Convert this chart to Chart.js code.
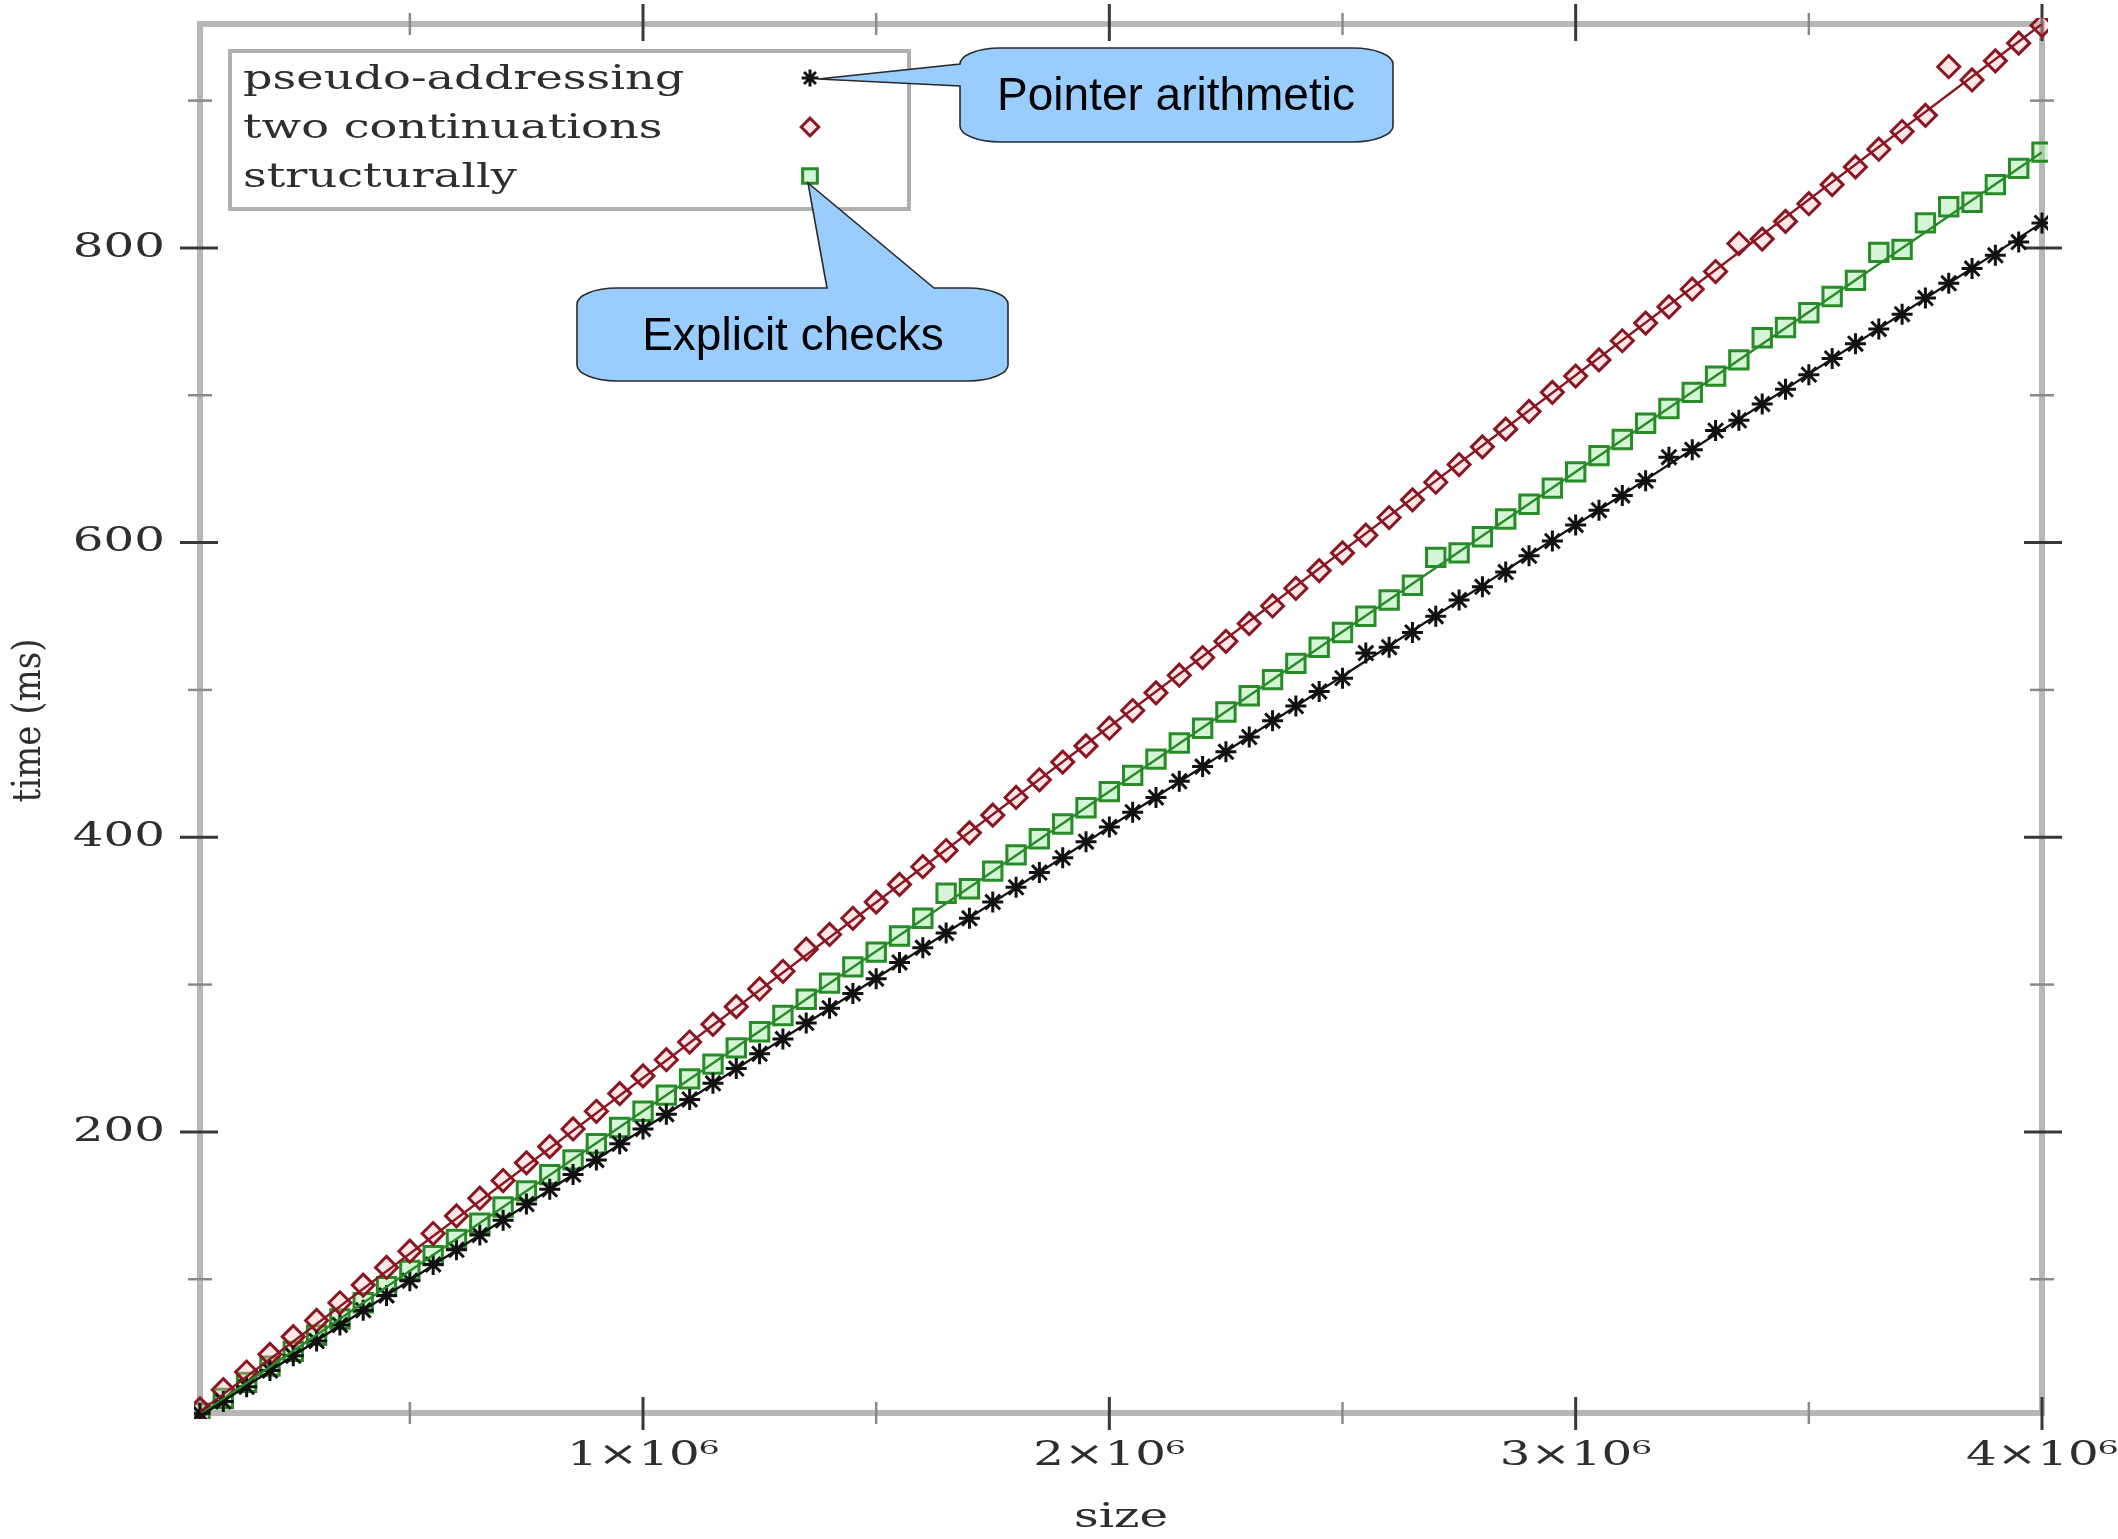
<!DOCTYPE html>
<html>
<head>
<meta charset="utf-8">
<title>time vs size</title>
<script src="https://cdn.jsdelivr.net/npm/chart.js@4.4.1/dist/chart.umd.min.js"></script>
<style>
  html, body { margin: 0; padding: 0; background: #fff; }
  #wrap { width: 2118px; height: 1539px; position: relative; }
</style>
</head>
<body>
<div id="wrap"><canvas id="chart"></canvas></div>
<script>
const sizes = [
  50000, 100000, 150000, 200000, 250000, 300000, 350000, 400000, 450000, 500000,
  550000, 600000, 650000, 700000, 750000, 800000, 850000, 900000, 950000, 1000000,
  1050000, 1100000, 1150000, 1200000, 1250000, 1300000, 1350000, 1400000, 1450000, 1500000,
  1550000, 1600000, 1650000, 1700000, 1750000, 1800000, 1850000, 1900000, 1950000, 2000000,
  2050000, 2100000, 2150000, 2200000, 2250000, 2300000, 2350000, 2400000, 2450000, 2500000,
  2550000, 2600000, 2650000, 2700000, 2750000, 2800000, 2850000, 2900000, 2950000, 3000000,
  3050000, 3100000, 3150000, 3200000, 3250000, 3300000, 3350000, 3400000, 3450000, 3500000,
  3550000, 3600000, 3650000, 3700000, 3750000, 3800000, 3850000, 3900000, 3950000, 4000000
];
const pseudoAddressing = [
  9, 17, 27, 38, 48, 58, 69, 79, 89, 99,
  110, 120, 130, 140, 151, 161, 171, 181, 192, 202,
  212, 222, 233, 243, 253, 263, 274, 284, 294, 304,
  315, 325, 335, 345, 356, 366, 376, 386, 397, 407,
  417, 427, 438, 448, 458, 468, 479, 489, 499, 508,
  525, 529, 539, 550, 561, 570, 580, 591, 601, 612,
  622, 632, 642, 658, 663, 676, 683, 694, 704, 714,
  725, 735, 745, 755, 766, 776, 786, 795, 804, 817
];
const twoContinuations = [
  12, 25, 37, 49, 61, 72, 84, 96, 108, 119,
  131, 143, 155, 167, 179, 190, 202, 214, 226, 238,
  249, 261, 273, 285, 297, 309, 324, 334, 345, 356,
  368, 380, 391, 403, 415, 427, 439, 451, 462, 474,
  486, 498, 510, 522, 533, 545, 557, 569, 581, 593,
  605, 617, 629, 641, 653, 665, 677, 689, 702, 713,
  724, 737, 749, 760, 772, 784, 803, 806, 818, 830,
  843, 855, 867, 879, 890, 923, 914, 927, 939, 951
];
const structurally = [
  9, 19, 30, 41, 51, 62, 73, 84, 95, 106,
  116, 127, 138, 149, 160, 171, 181, 192, 203, 214,
  225, 236, 246, 257, 268, 279, 290, 301, 312, 322,
  333, 345, 362, 365, 377, 388, 399, 409, 420, 431,
  442, 453, 464, 474, 485, 496, 507, 518, 529, 539,
  550, 561, 571, 590, 593, 604, 616, 626, 637, 648,
  659, 670, 681, 691, 702, 713, 724, 739, 746, 756,
  767, 778, 797, 799, 817, 828, 831, 843, 854, 865
];
// straight fit lines, end points
const fitSizes = [50000, 4000000];
const fitPseudo = [7, 817];
const fitTwo = [10, 952];
const fitStruct = [8, 865];

const seriesNames = ['pseudo-addressing', 'two continuations', 'structurally'];
const yTicks = [200, 400, 600, 800];
const yMinorTicks = [100, 300, 500, 700, 900];
const xTicks = [1000000, 2000000, 3000000, 4000000];
const xMinorTicks = [500000, 1500000, 2500000, 3500000];
const xTickLabels = ['1×10⁶', '2×10⁶', '3×10⁶', '4×10⁶'];

function pts(xs, ys) {
  return xs.map((x, i) => ({x: x, y: ys[i]}));
}

const black = '#111111', red = '#8a1622', green = '#278c27';

const pointSets = [
  {label: seriesNames[0], data: pts(sizes, pseudoAddressing), pointStyle: 'star',
   pointRadius: 10.5, pointBorderWidth: 3, borderColor: black, backgroundColor: black},
  {label: seriesNames[1], data: pts(sizes, twoContinuations), pointStyle: 'rectRot',
   pointRadius: 11, pointBorderWidth: 3, borderColor: red, backgroundColor: 'rgba(255,185,190,0.35)'},
  {label: seriesNames[2], data: pts(sizes, structurally), pointStyle: 'rect',
   pointRadius: 13, pointBorderWidth: 3, borderColor: green, backgroundColor: 'rgba(165,232,165,0.45)'}
];
pointSets.forEach(d => { d.showLine = false; d.clip = 6; });

const fitSets = [
  {label: 'fit1', data: pts(fitSizes, fitPseudo), borderColor: black},
  {label: 'fit2', data: pts(fitSizes, fitTwo), borderColor: red},
  {label: 'fit3', data: pts(fitSizes, fitStruct), borderColor: green}
];
fitSets.forEach(d => { d.showLine = true; d.pointRadius = 0; d.borderWidth = 2.4; d.fill = false; });

const STRETCH = 1.42;
const SERIF = '34px "DejaVu Serif", "Liberation Serif", serif';

function stretchedText(ctx, text, x, y, align, sx, rot) {
  ctx.save();
  ctx.translate(x, y);
  ctx.scale(sx, 1);
  if (rot) ctx.rotate(rot);
  ctx.textAlign = align;
  ctx.textBaseline = 'middle';
  ctx.fillText(text, 0, 0);
  ctx.restore();
}

function seg(ctx, x1, y1, x2, y2) {
  ctx.beginPath();
  ctx.moveTo(x1, y1);
  ctx.lineTo(x2, y2);
  ctx.stroke();
}

// gnuplot style box, mirrored ticks and labels
const frame = {
  id: 'frame',
  beforeDatasetsDraw(chart) {
    const {ctx, chartArea: a, scales: {x, y}} = chart;
    ctx.save();
    ctx.strokeStyle = '#b7b7b7';
    ctx.lineWidth = 6;
    ctx.strokeRect(a.left, a.top, a.right - a.left, a.bottom - a.top);

    ctx.strokeStyle = '#8a8a8a';
    ctx.lineWidth = 2.5;
    yMinorTicks.forEach(v => {
      const py = y.getPixelForValue(v);
      seg(ctx, a.left - 12, py, a.left + 12, py);
      seg(ctx, a.right - 12, py, a.right + 12, py);
    });
    xMinorTicks.forEach(v => {
      const px = x.getPixelForValue(v);
      seg(ctx, px, a.top - 11, px, a.top + 11);
      seg(ctx, px, a.bottom - 11, px, a.bottom + 11);
    });
    ctx.strokeStyle = '#383838';
    ctx.lineWidth = 3;
    yTicks.forEach(v => {
      const py = y.getPixelForValue(v);
      seg(ctx, a.left - 20, py, a.left + 18, py);
      seg(ctx, a.right - 18, py, a.right + 20, py);
    });
    xTicks.forEach(v => {
      const px = x.getPixelForValue(v);
      seg(ctx, px, a.top - 20, px, a.top + 17);
      seg(ctx, px, a.bottom - 16, px, a.bottom + 17);
    });

    ctx.fillStyle = '#2e2e2e';
    ctx.font = SERIF;
    yTicks.forEach(v => {
      stretchedText(ctx, String(v), a.left - 35, y.getPixelForValue(v), 'right', STRETCH);
    });
    xTicks.forEach((v, i) => {
      stretchedText(ctx, xTickLabels[i], x.getPixelForValue(v), a.bottom + 43, 'center', STRETCH);
    });
    stretchedText(ctx, 'size', (a.left + a.right) / 2, a.bottom + 105, 'center', STRETCH);
    stretchedText(ctx, 'time (ms)', 30, (a.top + a.bottom) / 2 + 2, 'center', 1.15, -Math.PI / 2);
    ctx.restore();
  },
  afterDraw(chart) {
    const ctx = chart.ctx;
    ctx.save();
    // key box
    ctx.fillStyle = '#fff';
    ctx.fillRect(230, 51, 679, 158);
    ctx.strokeStyle = '#b0b0b0';
    ctx.lineWidth = 4;
    ctx.strokeRect(230, 51, 679, 158);
    ctx.font = SERIF;
    pointSets.forEach((d, i) => {
      const ry = 80 + i * 49;
      ctx.fillStyle = '#2e2e2e';
      stretchedText(ctx, d.label, 243, ry, 'left', 1.36);
      ctx.strokeStyle = d.borderColor;
      ctx.fillStyle = d.backgroundColor;
      ctx.lineWidth = d.pointBorderWidth;
      Chart.helpers.drawPoint(ctx, {pointStyle: d.pointStyle, rotation: 0,
        radius: d.pointRadius * 0.8, borderWidth: d.pointBorderWidth}, 810, ry - 2);
    });

    callout(ctx, {l: 960, t: 48, r: 1393, b: 142}, {side: 'left', a: 64, b: 86, tipX: 818, tipY: 79});
    callout(ctx, {l: 577, t: 288, r: 1008, b: 381}, {side: 'top', a: 827, b: 934, tipX: 808, tipY: 183});
    ctx.fillStyle = '#000';
    ctx.font = '46px "Liberation Sans", Arial, sans-serif';
    ctx.textAlign = 'center';
    ctx.textBaseline = 'middle';
    ctx.fillText('Pointer arithmetic', 1176, 97);
    ctx.fillText('Explicit checks', 793, 337);
    ctx.restore();
  }
};

function callout(ctx, box, tail) {
  const {l, t, r, b} = box;
  const rx = 40, ry = 16;
  ctx.beginPath();
  ctx.moveTo(l + rx, t);
  if (tail.side === 'top') {
    ctx.lineTo(tail.a, t);
    ctx.lineTo(tail.tipX, tail.tipY);
    ctx.lineTo(tail.b, t);
  }
  ctx.lineTo(r - rx, t);
  ctx.ellipse(r - rx, t + ry, rx, ry, 0, -Math.PI / 2, 0);
  ctx.lineTo(r, b - ry);
  ctx.ellipse(r - rx, b - ry, rx, ry, 0, 0, Math.PI / 2);
  ctx.lineTo(l + rx, b);
  ctx.ellipse(l + rx, b - ry, rx, ry, 0, Math.PI / 2, Math.PI);
  if (tail.side === 'left') {
    ctx.lineTo(l, tail.b);
    ctx.lineTo(tail.tipX, tail.tipY);
    ctx.lineTo(l, tail.a);
  }
  ctx.lineTo(l, t + ry);
  ctx.ellipse(l + rx, t + ry, rx, ry, 0, Math.PI, Math.PI * 1.5);
  ctx.closePath();
  ctx.fillStyle = '#99ccff';
  ctx.fill();
  ctx.strokeStyle = '#2a2a2a';
  ctx.lineWidth = 1.6;
  ctx.stroke();
}

const chart = new Chart(document.getElementById('chart'), {
  type: 'scatter',
  data: {datasets: fitSets.concat(pointSets)},
  options: {
    responsive: true,
    maintainAspectRatio: false,
    animation: false,
    events: [],
    layout: {padding: {left: 200, right: 76, top: 24, bottom: 126}},
    scales: {
      x: {type: 'linear', min: 50000, max: 4000000, display: false},
      y: {type: 'linear', min: 9.2, max: 952, display: false}
    },
    plugins: {
      legend: {display: false},
      tooltip: {enabled: false}
    }
  },
  plugins: [frame]
});
</script>
</body>
</html>
